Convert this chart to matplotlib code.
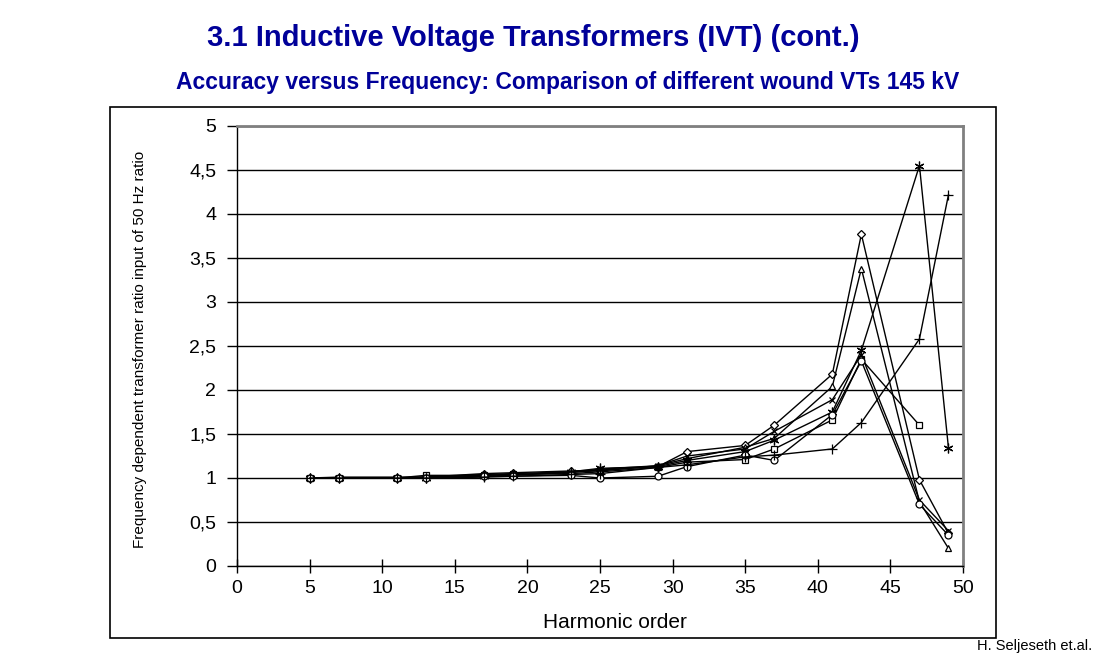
import numpy as np
import matplotlib
matplotlib.use("Agg")
import matplotlib.pyplot as plt
from matplotlib.patches import Rectangle
from matplotlib.ticker import FuncFormatter

plt.rcParams['font.family'] = ['Liberation Sans', 'DejaVu Sans']

# harmonic orders measured
harmonics = [5, 7, 11, 13, 17, 19, 23, 25, 29, 31, 35, 37, 41, 43, 47, 49]

# ratio values, one list per transformer
vt_diamond = [1.00, 1.00, 1.00, 1.01, 1.05, 1.06, 1.08, 1.09, 1.13, 1.30, 1.37, 1.60, 2.18, 3.77, 0.98, 0.37]
vt_square = [1.00, 1.00, 1.00, 1.03, 1.03, 1.04, 1.05, 1.07, 1.12, 1.18, 1.21, 1.33, 1.66, 2.35, 1.60, np.nan]
vt_triangle = [1.00, 1.01, 1.01, 1.01, 1.04, 1.05, 1.07, 1.08, 1.14, 1.22, 1.35, 1.45, 2.04, 3.38, 0.73, 0.20]
vt_x = [1.00, 1.00, 1.00, 1.01, 1.03, 1.04, 1.06, 1.10, 1.14, 1.25, 1.33, 1.53, 1.89, 2.40, 0.75, 0.40]
vt_star = [1.00, 1.00, 1.00, 1.00, 1.02, 1.03, 1.07, 1.11, 1.13, 1.20, 1.30, 1.43, 1.75, 2.45, 4.55, 1.34]
vt_circle = [1.00, 1.00, 1.00, 1.00, 1.02, 1.02, 1.03, 1.00, 1.02, 1.13, 1.26, 1.20, 1.72, 2.33, 0.70, 0.35]
vt_plus = [1.00, 1.00, 1.00, 1.00, 1.01, 1.02, 1.04, 1.05, 1.12, 1.15, 1.24, 1.26, 1.33, 1.63, 2.58, 4.22]

series = [
    (vt_diamond, 'D', 4),
    (vt_square, 's', 4),
    (vt_triangle, '^', 5),
    (vt_x, 'x', 5),
    (vt_star, (6, 2, 0), 7),
    (vt_circle, 'o', 5),
    (vt_plus, '+', 7),
]

fig = plt.figure(figsize=(11.02, 6.53), dpi=100)
ax = fig.add_axes([237 / 1102, 1 - 566 / 653, (963 - 237) / 1102, (566 - 126) / 653])

for vals, mk, ms in series:
    ax.plot(harmonics, vals, color='black', lw=1, marker=mk, ms=ms,
            mfc='white', mec='black', mew=0.9)

ax.set_xlim(0, 50)
ax.set_ylim(0, 5)
ax.set_xticks(range(0, 51, 5))
ax.set_yticks(np.arange(0, 5.01, 0.5))
ax.yaxis.set_major_formatter(FuncFormatter(lambda v, p: ('%g' % v).replace('.', ',')))
ax.yaxis.grid(True, color='black', lw=1)
ax.set_axisbelow(True)
ax.tick_params(axis='x', direction='inout', length=10, width=1, labelsize=14, pad=5)
ax.tick_params(axis='y', direction='out', length=7, width=1, labelsize=14, pad=8)
for s in ['left', 'bottom']:
    ax.spines[s].set_color('black')
    ax.spines[s].set_linewidth(1)
for s in ['top', 'right']:
    ax.spines[s].set_color('#808080')
    ax.spines[s].set_linewidth(2)

# frame round the whole chart
fig.patches.append(Rectangle((110 / 1102, 1 - 638 / 653), (996 - 110) / 1102, (638 - 107) / 653,
                             transform=fig.transFigure, fill=False, ec='black', lw=1.2))

fig.text(140 / 1102, 1 - 349 / 653, 'Frequency dependent transformer ratio input of 50 Hz ratio',
         rotation=90, ha='center', va='center', fontsize=11)
fig.text(615 / 1102, 1 - 623 / 653, 'Harmonic order', ha='center', va='center', fontsize=15)

fig.text(533 / 1102, 1 - 38 / 653, '3.1 Inductive Voltage Transformers (IVT) (cont.)',
         ha='center', va='center', fontsize=21, fontweight='bold', color='#000099')
fig.text(568 / 1102, 1 - 83 / 653, 'Accuracy versus Frequency: Comparison of different wound VTs 145 kV',
         ha='center', va='center', fontsize=16.5, fontweight='bold', color='#000099')
fig.text(1092 / 1102, 1 - 646 / 653, 'H. Seljeseth et.al.', ha='right', va='center', fontsize=10.5)

fig.savefig('out.png', dpi=100)
